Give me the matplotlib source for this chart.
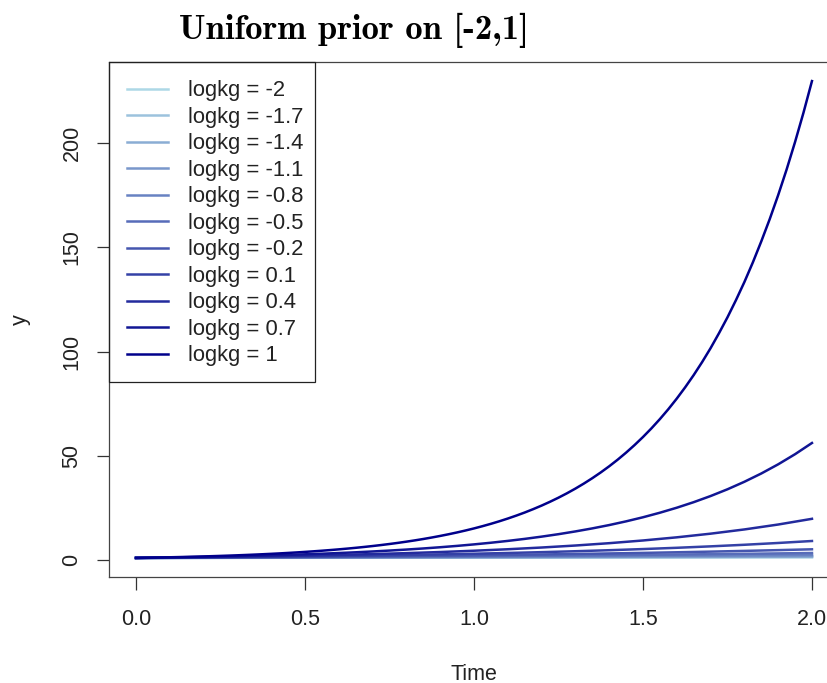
import matplotlib
matplotlib.use("Agg")
import matplotlib.pyplot as plt
from matplotlib.patches import Rectangle

# ---- data ----
time = [0.0, 0.1, 0.2, 0.3, 0.4, 0.5, 0.6, 0.7, 0.8, 0.9, 1.0,
        1.1, 1.2, 1.3, 1.4, 1.5, 1.6, 1.7, 1.8, 1.9, 2.0]
time_05 = [0.00, 0.05, 0.10, 0.15, 0.20, 0.25, 0.30, 0.35, 0.40, 0.45, 0.50,
           0.55, 0.60, 0.65, 0.70, 0.75, 0.80, 0.85, 0.90, 0.95, 1.00,
           1.05, 1.10, 1.15, 1.20, 1.25, 1.30, 1.35, 1.40, 1.45, 1.50,
           1.55, 1.60, 1.65, 1.70, 1.75, 1.80, 1.85, 1.90, 1.95, 2.00]
time_025 = [0.000, 0.025, 0.050, 0.075, 0.100, 0.125, 0.150, 0.175, 0.200, 0.225,
            0.250, 0.275, 0.300, 0.325, 0.350, 0.375, 0.400, 0.425, 0.450, 0.475,
            0.500, 0.525, 0.550, 0.575, 0.600, 0.625, 0.650, 0.675, 0.700, 0.725,
            0.750, 0.775, 0.800, 0.825, 0.850, 0.875, 0.900, 0.925, 0.950, 0.975,
            1.000, 1.025, 1.050, 1.075, 1.100, 1.125, 1.150, 1.175, 1.200, 1.225,
            1.250, 1.275, 1.300, 1.325, 1.350, 1.375, 1.400, 1.425, 1.450, 1.475,
            1.500, 1.525, 1.550, 1.575, 1.600, 1.625, 1.650, 1.675, 1.700, 1.725,
            1.750, 1.775, 1.800, 1.825, 1.850, 1.875, 1.900, 1.925, 1.950, 1.975,
            2.000]

labels = ["logkg = -2", "logkg = -1.7", "logkg = -1.4", "logkg = -1.1",
          "logkg = -0.8", "logkg = -0.5", "logkg = -0.2", "logkg = 0.1",
          "logkg = 0.4", "logkg = 0.7", "logkg = 1"]

y_m20 = [1.00, 1.01, 1.03, 1.04, 1.06, 1.07, 1.08, 1.10, 1.11, 1.13, 1.15,
         1.16, 1.18, 1.19, 1.21, 1.23, 1.24, 1.26, 1.28, 1.29, 1.31]
y_m17 = [1.00, 1.02, 1.04, 1.06, 1.08, 1.10, 1.12, 1.14, 1.16, 1.18, 1.20,
         1.22, 1.25, 1.27, 1.29, 1.32, 1.34, 1.36, 1.39, 1.42, 1.44]
y_m14 = [1.00, 1.03, 1.05, 1.08, 1.10, 1.13, 1.16, 1.19, 1.22, 1.25, 1.28,
         1.31, 1.35, 1.38, 1.41, 1.45, 1.48, 1.52, 1.56, 1.60, 1.64]
y_m11 = [1.00, 1.03, 1.07, 1.11, 1.14, 1.18, 1.22, 1.26, 1.31, 1.35, 1.40,
         1.44, 1.49, 1.54, 1.59, 1.65, 1.70, 1.76, 1.82, 1.88, 1.95]
y_m08 = [1.00, 1.05, 1.09, 1.14, 1.20, 1.25, 1.31, 1.37, 1.43, 1.50, 1.57,
         1.64, 1.72, 1.79, 1.88, 1.96, 2.05, 2.15, 2.25, 2.35, 2.46]
y_m05 = [1.00, 1.06, 1.13, 1.20, 1.27, 1.35, 1.44, 1.53, 1.63, 1.73, 1.83,
         1.95, 2.07, 2.20, 2.34, 2.48, 2.64, 2.80, 2.98, 3.17, 3.36]
y_m02 = [1.00, 1.09, 1.18, 1.28, 1.39, 1.51, 1.63, 1.77, 1.93, 2.09, 2.27,
         2.46, 2.67, 2.90, 3.15, 3.41, 3.71, 4.02, 4.37, 4.74, 5.14]
y_p01 = [1.00, 1.12, 1.25, 1.39, 1.56, 1.74, 1.94, 2.17, 2.42, 2.70, 3.02,
         3.37, 3.77, 4.21, 4.70, 5.25, 5.86, 6.55, 7.31, 8.17, 9.12]
y_p04 = [1.00, 1.16, 1.35, 1.56, 1.82, 2.11, 2.45, 2.84, 3.30, 3.83, 4.45,
         5.16, 5.99, 6.95, 8.07, 9.37, 10.88, 12.63, 14.66, 17.02, 19.76]
y_p07 = [1.000, 1.106, 1.223, 1.353, 1.496, 1.655, 1.830, 2.024, 2.238, 2.475,
         2.737, 3.027, 3.348, 3.702, 4.095, 4.528, 5.008, 5.538, 6.125, 6.774,
         7.492, 8.285, 9.163, 10.13, 11.21, 12.39, 13.71, 15.16, 16.76, 18.54,
         20.50, 22.68, 25.08, 27.74, 30.68, 33.92, 37.52, 41.49, 45.89, 50.75,
         56.13]
y_p10 = [1.000, 1.070, 1.146, 1.226, 1.312, 1.405, 1.503, 1.609, 1.722, 1.843,
         1.973, 2.112, 2.260, 2.419, 2.589, 2.771, 2.966, 3.175, 3.398, 3.637,
         3.893, 4.167, 4.460, 4.773, 5.109, 5.469, 5.853, 6.265, 6.705, 7.177,
         7.681, 8.221, 8.800, 9.418, 10.08, 10.79, 11.55, 12.36, 13.23, 14.16,
         15.15, 16.22, 17.36, 18.58, 19.89, 21.29, 22.78, 24.39, 26.10, 27.94,
         29.90, 32.00, 34.25, 36.66, 39.24, 42.00, 44.95, 48.11, 51.50, 55.12,
         58.99, 63.14, 67.58, 72.33, 77.42, 82.87, 88.69, 94.93, 101.6, 108.8,
         116.4, 124.6, 133.3, 142.7, 152.8, 163.5, 175.0, 187.3, 200.5, 214.6,
         229.7]

series = [y_m20, y_m17, y_m14, y_m11, y_m08, y_m05, y_m02, y_p01, y_p04, y_p07, y_p10]
xs = [time] * 9 + [time_05, time_025]

xticks = [0.0, 0.5, 1.0, 1.5, 2.0]
xticklabels = ["0.0", "0.5", "1.0", "1.5", "2.0"]
yticks = [0, 50, 100, 150, 200]
yticklabels = ["0", "50", "100", "150", "200"]

colors = ["#ADD8E6", "#9CC2DD", "#8AADD4", "#7997CB", "#6882C2", "#576CB9",
          "#4556AF", "#3441A6", "#232B9D", "#111694", "#00008B"]

# ---- figure ----
W, H = 828, 683
fig = plt.figure(figsize=(W / 100, H / 100), dpi=100)
plt.rcParams['font.family'] = ['Liberation Sans', 'DejaVu Sans']

ax_l, ax_b, ax_r, ax_t = 109, 577, 839, 62
ax = fig.add_axes([ax_l / W, 1 - ax_b / H, (ax_r - ax_l) / W, (ax_b - ax_t) / H])
for x, y, c, lab in zip(xs, series, colors, labels):
    ax.plot(x, y, color=c, lw=1.8, label=lab, solid_joinstyle='round')
ax.margins(x=0.04, y=0.04)

text_col = "#222222"
fs = 15.5
ax.set_xticks(xticks)
ax.set_xticklabels(xticklabels)
ax.set_yticks(yticks)
ax.set_yticklabels(yticklabels, rotation=90, va='center')
ax.tick_params(axis='both', direction='out', length=9, width=0.9,
               colors="#333333", labelcolor=text_col, labelsize=fs)
ax.tick_params(axis='x', pad=14)
ax.tick_params(axis='y', pad=10)
for s in ax.spines.values():
    s.set_color("#444444")
    s.set_linewidth(0.9)

ax.set_xlabel("Time", fontsize=fs, color=text_col)
ax.xaxis.label.set_va('center')
ax.xaxis.set_label_coords((474 - ax_l) / (ax_r - ax_l), -(674 - ax_b) / (ax_b - ax_t))
ax.set_ylabel("y", fontsize=fs, color=text_col)
ax.yaxis.label.set_va('center')
ax.yaxis.set_label_coords(-(ax_l - 20) / (ax_r - ax_l), 0.5)

lfs = 15.8
leg = ax.legend(loc='upper left', bbox_to_anchor=(0, 1), borderaxespad=0,
                frameon=False, fontsize=lfs,
                handlelength=1.87, handletextpad=0.87, labelspacing=0.25,
                borderpad=0.84)
for t in leg.get_texts():
    t.set_color(text_col)
for h in leg.legend_handles:
    h.set_linewidth(1.8)

# legend frame (R-style box sharing the plot's top-left corner)
frame = Rectangle((ax_l / W, 1 - 382 / H), (315 - ax_l) / W, (382 - ax_t) / H,
                  transform=fig.transFigure, fill=False, edgecolor="#222222",
                  linewidth=0.9, zorder=5)
fig.add_artist(frame)

fig.text(354 / W, 1 - 39 / H, "Uniform prior on [-2,1]", fontfamily='cmb10',
         fontsize=25, ha='center', va='baseline', color='black')

fig.savefig("out.png", dpi=100)
